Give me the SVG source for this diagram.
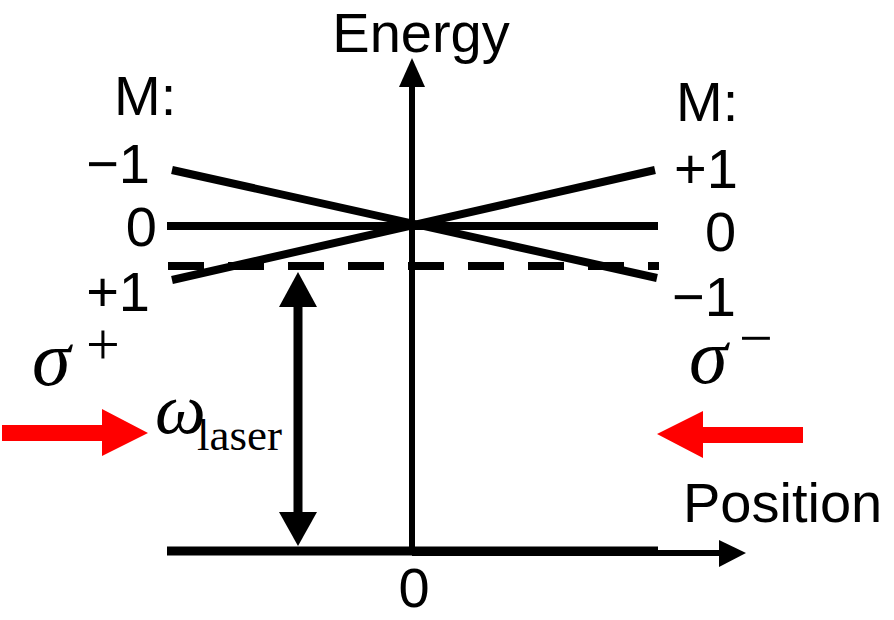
<svg xmlns="http://www.w3.org/2000/svg" width="894" height="620" viewBox="0 0 894 620">
<style>
.lbl{font-family:"Liberation Sans",Arial,sans-serif;font-size:56px;fill:#000}
.math{font-family:"Liberation Serif","Times New Roman",serif;font-style:italic;fill:#000}
.sub{font-family:"Liberation Serif","Times New Roman",serif;fill:#000}
.sup{font-family:"Liberation Serif","Times New Roman",serif;font-size:60px;fill:#000}
.lv{stroke:#000;stroke-width:8;fill:none}
</style>
<rect width="894" height="620" fill="#fff"/>
<g id="axes">
<line x1="412" y1="553" x2="412" y2="86" stroke="#000" stroke-width="6"/>
<polygon points="412,58 399,87 425,87" fill="#000"/>
<line x1="412" y1="553" x2="720" y2="553" stroke="#000" stroke-width="6"/>
<polygon points="746,553 719,540 719,567" fill="#000"/>
<text class="lbl" x="421" y="52" text-anchor="middle">Energy</text>
<text class="lbl" x="683" y="522">Position</text>
<text class="lbl" x="414" y="607" text-anchor="middle">0</text>
</g>
<g id="ground">
<line x1="167" y1="551" x2="658" y2="551" stroke="#000" stroke-width="9"/>
</g>
<g id="levels">
<line class="lv" x1="167" y1="226" x2="658" y2="226"/>
<line class="lv" x1="172" y1="170" x2="657" y2="278"/>
<line class="lv" x1="172" y1="280" x2="655" y2="170"/>
<line class="lv" x1="168" y1="266" x2="659" y2="266" stroke-dasharray="36 24"/>
</g>
<g id="left-labels">
<text class="lbl" x="114" y="115">M:</text>
<text class="lbl" x="150" y="183" text-anchor="end">−1</text>
<text class="lbl" x="157" y="246" text-anchor="end">0</text>
<text class="lbl" x="150" y="311" text-anchor="end">+1</text>
</g>
<g id="right-labels">
<text class="lbl" x="676" y="121">M:</text>
<text class="lbl" x="674" y="188">+1</text>
<text class="lbl" x="705" y="251">0</text>
<text class="lbl" x="672" y="316">−1</text>
</g>
<g id="omega-arrow">
<line x1="298" y1="305" x2="298" y2="514" stroke="#000" stroke-width="9"/>
<polygon points="298,272 279,307 317,307" fill="#000"/>
<polygon points="298,546 279,512 317,512" fill="#000"/>
<text class="math" x="155" y="433" font-size="72">ω</text>
<text class="sub" x="197" y="450" font-size="45">laser</text>
</g>
<g id="sigma-plus">
<text class="math" x="32" y="385" font-size="78">σ</text>
<text class="sup" x="86" y="364">+</text>
<polygon points="2,425 102,425 102,409 148,433 102,456 102,441 2,441" fill="#f00"/>
</g>
<g id="sigma-minus">
<text class="math" x="689" y="383" font-size="78">σ</text>
<text class="sup" x="739" y="358">−</text>
<polygon points="803,427 703,427 703,411 657,434 703,458 703,443 803,443" fill="#f00"/>
</g>
</svg>
